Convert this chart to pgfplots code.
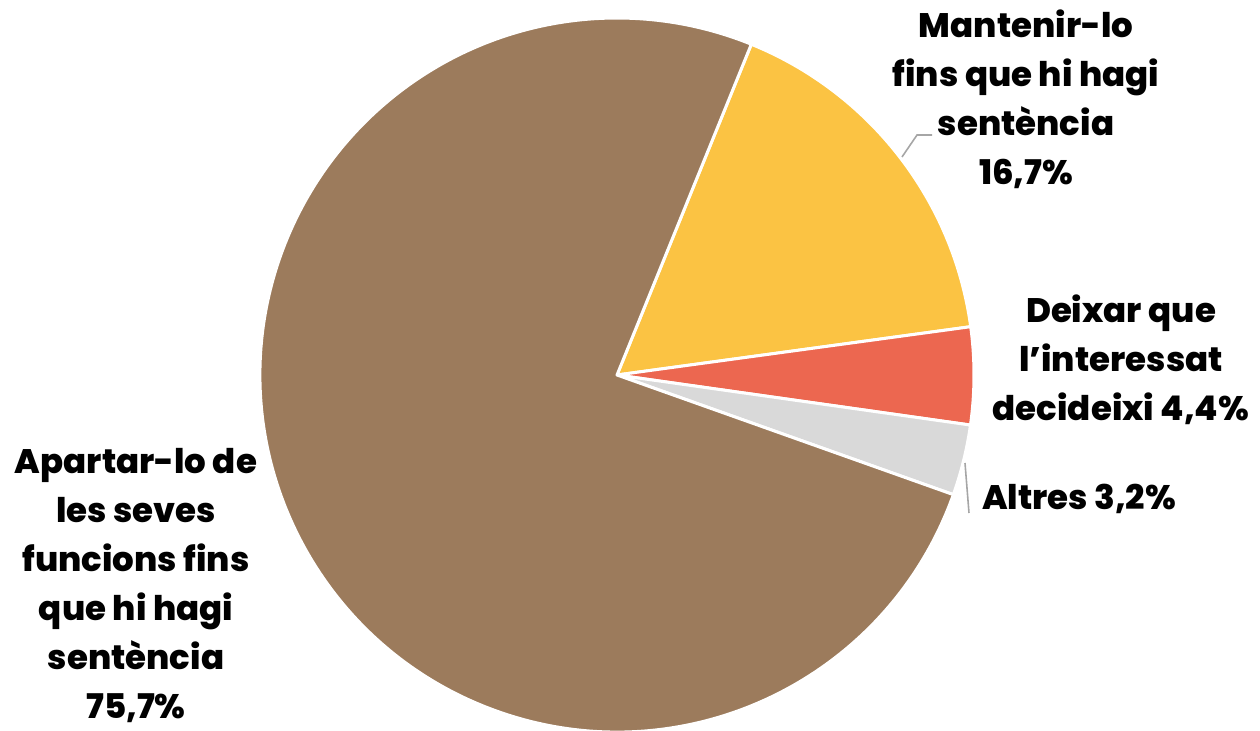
\documentclass[border=0pt]{standalone}
\usepackage{fontspec}
\setmainfont{Poppins}[BoldFont={Poppins ExtraBold}]
\usepackage{pgfplots}
\usepackage{pgfplotstable}
\pgfplotsset{compat=1.18}
\definecolor{cyellow}{HTML}{FBC343}
\definecolor{cred}{HTML}{EC6750}
\definecolor{cgray}{HTML}{D9D9D9}
\definecolor{cbrown}{HTML}{9C7B5C}
\definecolor{cline}{HTML}{A6A6A6}
\pgfplotstableread{
val
16.7
4.4
3.2
75.7
}\piedata
\begin{document}
\begin{tikzpicture}
\pgfplotstablegetelem{0}{val}\of\piedata \let\vA\pgfplotsretval
\pgfplotstablegetelem{1}{val}\of\piedata \let\vB\pgfplotsretval
\pgfplotstablegetelem{2}{val}\of\piedata \let\vC\pgfplotsretval
\pgfplotstablegetelem{3}{val}\of\piedata \let\vD\pgfplotsretval
\pgfmathsetmacro\aA{67.9}
\pgfmathsetmacro\aB{\aA-3.6*\vA}
\pgfmathsetmacro\aC{\aB-3.6*\vB}
\pgfmathsetmacro\aD{\aC-3.6*\vC}
\pgfmathsetmacro\aE{\aD-3.6*\vD}
\begin{axis}[
  width=630pt, height=365pt, scale only axis,
  xmin=0, xmax=1260, ymin=0, ymax=730,
  hide axis, clip=false,
]
\coordinate (LL) at (axis cs:0,0);
\coordinate (UR) at (axis cs:1260,730);
\fill[cyellow, draw=white, line width=1.5pt, line join=round] (axis cs:617,355) -- ++(\aA:178.5pt) arc[start angle=\aA, end angle=\aB, radius=178.5pt] -- cycle;
\fill[cred, draw=white, line width=1.5pt, line join=round] (axis cs:617,355) -- ++(\aB:178.5pt) arc[start angle=\aB, end angle=\aC, radius=178.5pt] -- cycle;
\fill[cgray, draw=white, line width=1.5pt, line join=round] (axis cs:617,355) -- ++(\aC:178.5pt) arc[start angle=\aC, end angle=\aD, radius=178.5pt] -- cycle;
\fill[cbrown, draw=white, line width=1.5pt, line join=round] (axis cs:617,355) -- ++(\aD:178.5pt) arc[start angle=\aD, end angle=\aE, radius=178.5pt] -- cycle;
\draw[cline, line width=0.8pt] (axis cs:902,573) -- (axis cs:917,595) -- (axis cs:932,595);
\draw[cline, line width=0.8pt] (axis cs:965,267) -- (axis cs:969,217);
\begin{scope}[every node/.style={align=center, font=\fontsize{17}{24.5}\selectfont\bfseries, inner sep=0pt}]
\node at (axis cs:1026,631) {Mantenir-lo\\fins que hi hagi\\sentència\\16,7\%};
\node at (axis cs:1121,370) {Deixar que\\l’interessat\\decideixi 4,4\%};
\node at (axis cs:1079,231) {Altres 3,2\%};
\node at (axis cs:136,144) {Apartar-lo de\\les seves\\funcions fins\\que hi hagi\\sentència\\75,7\%};
\end{scope}
\end{axis}
\pgfresetboundingbox
\useasboundingbox (LL) rectangle (UR);
\end{tikzpicture}
\end{document}
